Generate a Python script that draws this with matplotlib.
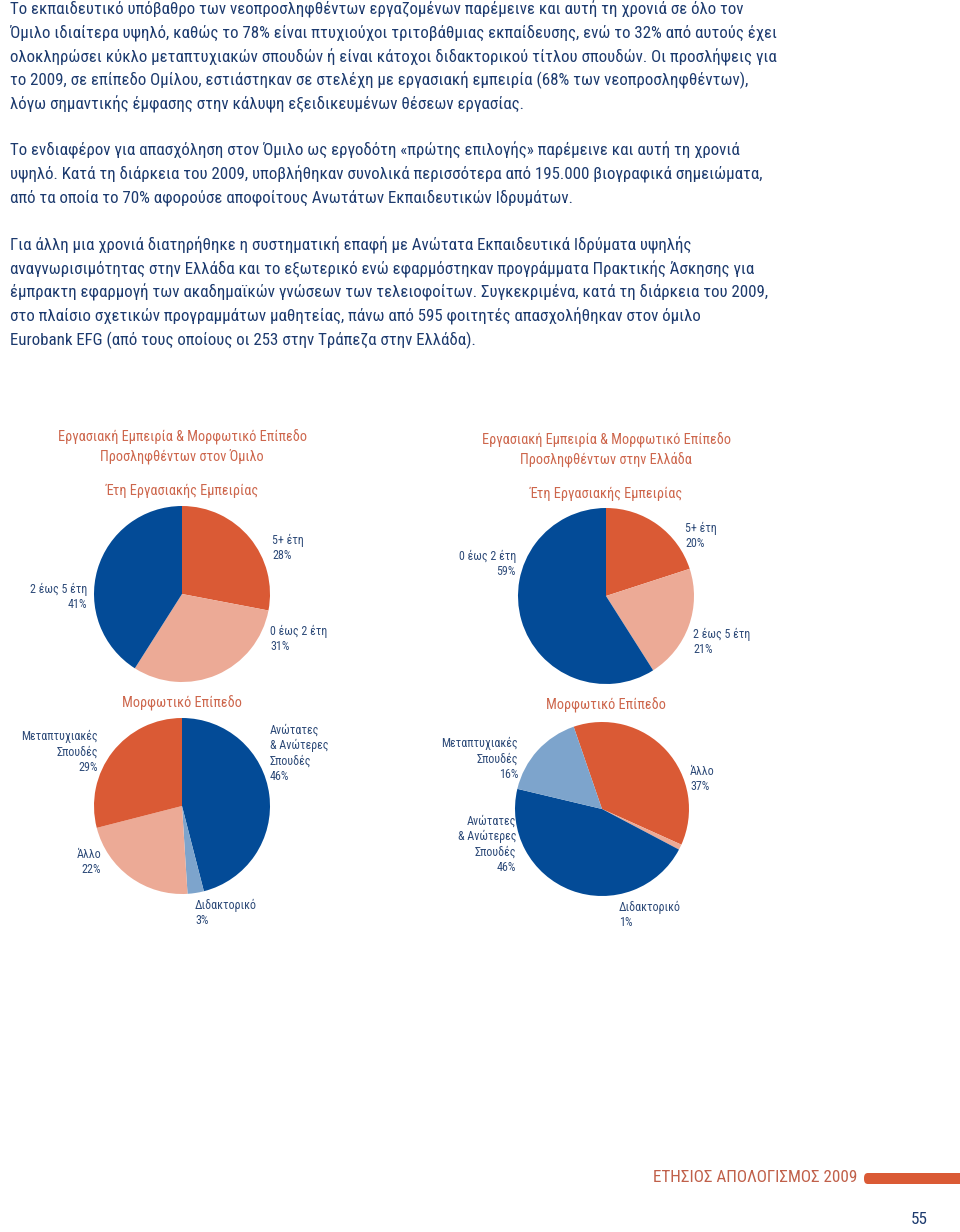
import matplotlib
matplotlib.use("Agg")
import matplotlib.pyplot as plt
from matplotlib import font_manager as fm
from matplotlib.patches import FancyBboxPatch

W, H = 960, 1232

# ---- data ----
para1 = [
    "Το εκπαιδευτικό υπόβαθρο των νεοπροσληφθέντων εργαζομένων παρέμεινε και αυτή τη χρονιά σε όλο τον",
    "Όμιλο ιδιαίτερα υψηλό, καθώς το 78% είναι πτυχιούχοι τριτοβάθμιας εκπαίδευσης, ενώ το 32% από αυτούς έχει",
    "ολοκληρώσει κύκλο μεταπτυχιακών σπουδών ή είναι κάτοχοι διδακτορικού τίτλου σπουδών. Οι προσλήψεις για",
    "το 2009, σε επίπεδο Ομίλου, εστιάστηκαν σε στελέχη με εργασιακή εμπειρία (68% των νεοπροσληφθέντων),",
    "λόγω σημαντικής έμφασης στην κάλυψη εξειδικευμένων θέσεων εργασίας.",
]
para2 = [
    "Το ενδιαφέρον για απασχόληση στον Όμιλο ως εργοδότη «πρώτης επιλογής» παρέμεινε και αυτή τη χρονιά",
    "υψηλό. Κατά τη διάρκεια του 2009, υποβλήθηκαν συνολικά περισσότερα από 195.000 βιογραφικά σημειώματα,",
    "από τα οποία το 70% αφορούσε αποφοίτους Ανωτάτων Εκπαιδευτικών Ιδρυμάτων.",
]
para3 = [
    "Για άλλη μια χρονιά διατηρήθηκε η συστηματική επαφή με Ανώτατα Εκπαιδευτικά Ιδρύματα υψηλής",
    "αναγνωρισιμότητας στην Ελλάδα και το εξωτερικό ενώ εφαρμόστηκαν προγράμματα Πρακτικής Άσκησης για",
    "έμπρακτη εφαρμογή των ακαδημαϊκών γνώσεων των τελειοφοίτων. Συγκεκριμένα, κατά τη διάρκεια του 2009,",
    "στο πλαίσιο σχετικών προγραμμάτων μαθητείας, πάνω από 595 φοιτητές απασχολήθηκαν στον όμιλο",
    "Eurobank EFG (από τους οποίους οι 253 στην Τράπεζα στην Ελλάδα).",
]

group_title = "Εργασιακή Εμπειρία & Μορφωτικό Επίπεδο\nΠροσληφθέντων στον Όμιλο"
greece_title = "Εργασιακή Εμπειρία & Μορφωτικό Επίπεδο\nΠροσληφθέντων στην Ελλάδα"
exp_title = "Έτη Εργασιακής Εμπειρίας"
edu_title = "Μορφωτικό Επίπεδο"

exp_group_labels = ["5+ έτη", "0 έως 2 έτη", "2 έως 5 έτη"]
exp_group_values = [28, 31, 41]

exp_greece_labels = ["5+ έτη", "2 έως 5 έτη", "0 έως 2 έτη"]
exp_greece_values = [20, 21, 59]

edu_group_labels = ["Ανώτατες\n& Ανώτερες\nΣπουδές", "Διδακτορικό", "Άλλο", "Μεταπτυχιακές\nΣπουδές"]
edu_group_values = [46, 3, 22, 29]

edu_greece_labels = ["Άλλο", "Διδακτορικό", "Ανώτατες\n& Ανώτερες\nΣπουδές", "Μεταπτυχιακές\nΣπουδές"]
edu_greece_values = [37, 1, 46, 16]

footer_text = "ΕΤΗΣΙΟΣ ΑΠΟΛΟΓΙΣΜΟΣ 2009"
page_number = "55"

# ---- styles ----
ORANGE = '#DA5A35'
SALMON = '#ECAA96'
BLUE = '#034B97'
LBLUE = '#7DA4CC'
TITLE_C = '#CD664C'
BODY_C = '#1C3A6E'
LABEL_C = '#2D4A78'


# pick a narrow face if one is installed
def pick_font():
    for fam, stretch in [('Roboto Condensed', 'normal'), ('Liberation Sans Narrow', 'normal'),
                         ('DejaVu Sans', 'condensed'), ('Open Sans', 'condensed'),
                         ('Liberation Sans', 'normal')]:
        try:
            p = fm.findfont(fm.FontProperties(family=fam, stretch=stretch), fallback_to_default=False)
        except Exception:
            continue
        if stretch == 'condensed' and 'ondensed' not in p:
            continue
        return fam, stretch
    return 'DejaVu Sans', 'normal'


FAM, STRETCH = pick_font()
plt.rcParams['font.family'] = [FAM, 'DejaVu Sans']
plt.rcParams['font.stretch'] = STRETCH

fig = plt.figure(figsize=(W / 100, H / 100), dpi=100)
fig.patch.set_facecolor('white')
renderer = fig.canvas.get_renderer()


def fit(s, target_px):
    # font size that makes the string as wide as in the reference
    t = fig.text(0, 0, s, fontsize=10)
    w = t.get_window_extent(renderer).width
    t.remove()
    return 10 * target_px / w


BODY_FS = fit(para1[0], 728)
TITLE_FS = fit("Εργασιακή Εμπειρία & Μορφωτικό Επίπεδο", 248)
LABEL_FS = fit("2 έως 5 έτη", 57)
FOOT_FS = fit(footer_text, 205)


def px(x, y):
    return x / W, 1 - y / H


def put(x, y, s, **kw):
    fx, fy = px(x, y)
    fig.text(fx, fy, s, **kw)


# ---- body paragraphs ----
for lines, ys in [(para1, [9, 33, 57, 80, 104]),
                  (para2, [150, 174, 198]),
                  (para3, [245, 269, 292, 316, 340])]:
    for s, y in zip(lines, ys):
        put(10, y, s, fontsize=BODY_FS, color=BODY_C, va='center', ha='left')


# ---- pies ----
def draw_pie(cx, cy, r, values, colors, start):
    ax = fig.add_axes([(cx - r) / W, 1 - (cy + r) / H, 2 * r / W, 2 * r / H])
    ax.pie(values, colors=colors, startangle=start, counterclock=False,
           wedgeprops=dict(linewidth=0))
    ax.set_xlim(-1, 1)
    ax.set_ylim(-1, 1)
    ax.set_aspect('equal')
    ax.axis('off')


def lab(x, y, name, val, ha='left'):
    put(x, y, f"{name}\n{val}%", fontsize=LABEL_FS, color=LABEL_C, ha=ha, va='top',
        linespacing=1.22)


draw_pie(182, 594, 88, exp_group_values, [ORANGE, SALMON, BLUE], 90)
draw_pie(606, 596, 88, exp_greece_values, [ORANGE, SALMON, BLUE], 90)
draw_pie(182, 806, 88, edu_group_values, [BLUE, LBLUE, SALMON, ORANGE], 90)
draw_pie(602, 809, 87, edu_greece_values, [ORANGE, SALMON, BLUE, LBLUE], 109)

# titles
put(182, 447, group_title, fontsize=TITLE_FS, color=TITLE_C, ha='center', va='center', linespacing=1.25)
put(606, 450, greece_title, fontsize=TITLE_FS, color=TITLE_C, ha='center', va='center', linespacing=1.25)
put(182, 491, exp_title, fontsize=TITLE_FS, color=TITLE_C, ha='center', va='center')
put(606, 494, exp_title, fontsize=TITLE_FS, color=TITLE_C, ha='center', va='center')
put(182, 703, edu_title, fontsize=TITLE_FS, color=TITLE_C, ha='center', va='center')
put(606, 705, edu_title, fontsize=TITLE_FS, color=TITLE_C, ha='center', va='center')

# labels, top-left
lab(272, 534, exp_group_labels[0], exp_group_values[0])
lab(270, 625, exp_group_labels[1], exp_group_values[1])
lab(87, 583, exp_group_labels[2], exp_group_values[2], ha='right')
# labels, top-right
lab(685, 522, exp_greece_labels[0], exp_greece_values[0])
lab(693, 628, exp_greece_labels[1], exp_greece_values[1])
lab(516, 550, exp_greece_labels[2], exp_greece_values[2], ha='right')
# labels, bottom-left
lab(270, 724, edu_group_labels[0], edu_group_values[0])
lab(195, 899, edu_group_labels[1], edu_group_values[1])
lab(101, 848, edu_group_labels[2], edu_group_values[2], ha='right')
lab(98, 730, edu_group_labels[3], edu_group_values[3], ha='right')
# labels, bottom-right
lab(690, 765, edu_greece_labels[0], edu_greece_values[0])
lab(619, 901, edu_greece_labels[1], edu_greece_values[1])
lab(516, 815, edu_greece_labels[2], edu_greece_values[2], ha='right')
lab(518, 737, edu_greece_labels[3], edu_greece_values[3], ha='right')

# ---- footer ----
put(857, 1178, footer_text, fontsize=FOOT_FS, color='#C0604A', ha='right', va='center')
fx, fy = px(864, 1184)
bar = FancyBboxPatch((fx, fy), (W - 864) / W + 0.01, 11 / H,
                     boxstyle="round,pad=0,rounding_size=0.004",
                     transform=fig.transFigure, facecolor=ORANGE, edgecolor='none')
fig.patches.append(bar)
put(928, 1220, page_number, fontsize=FOOT_FS, color=BODY_C, ha='right', va='center')

fig.savefig("out.png", dpi=100, facecolor='white')
